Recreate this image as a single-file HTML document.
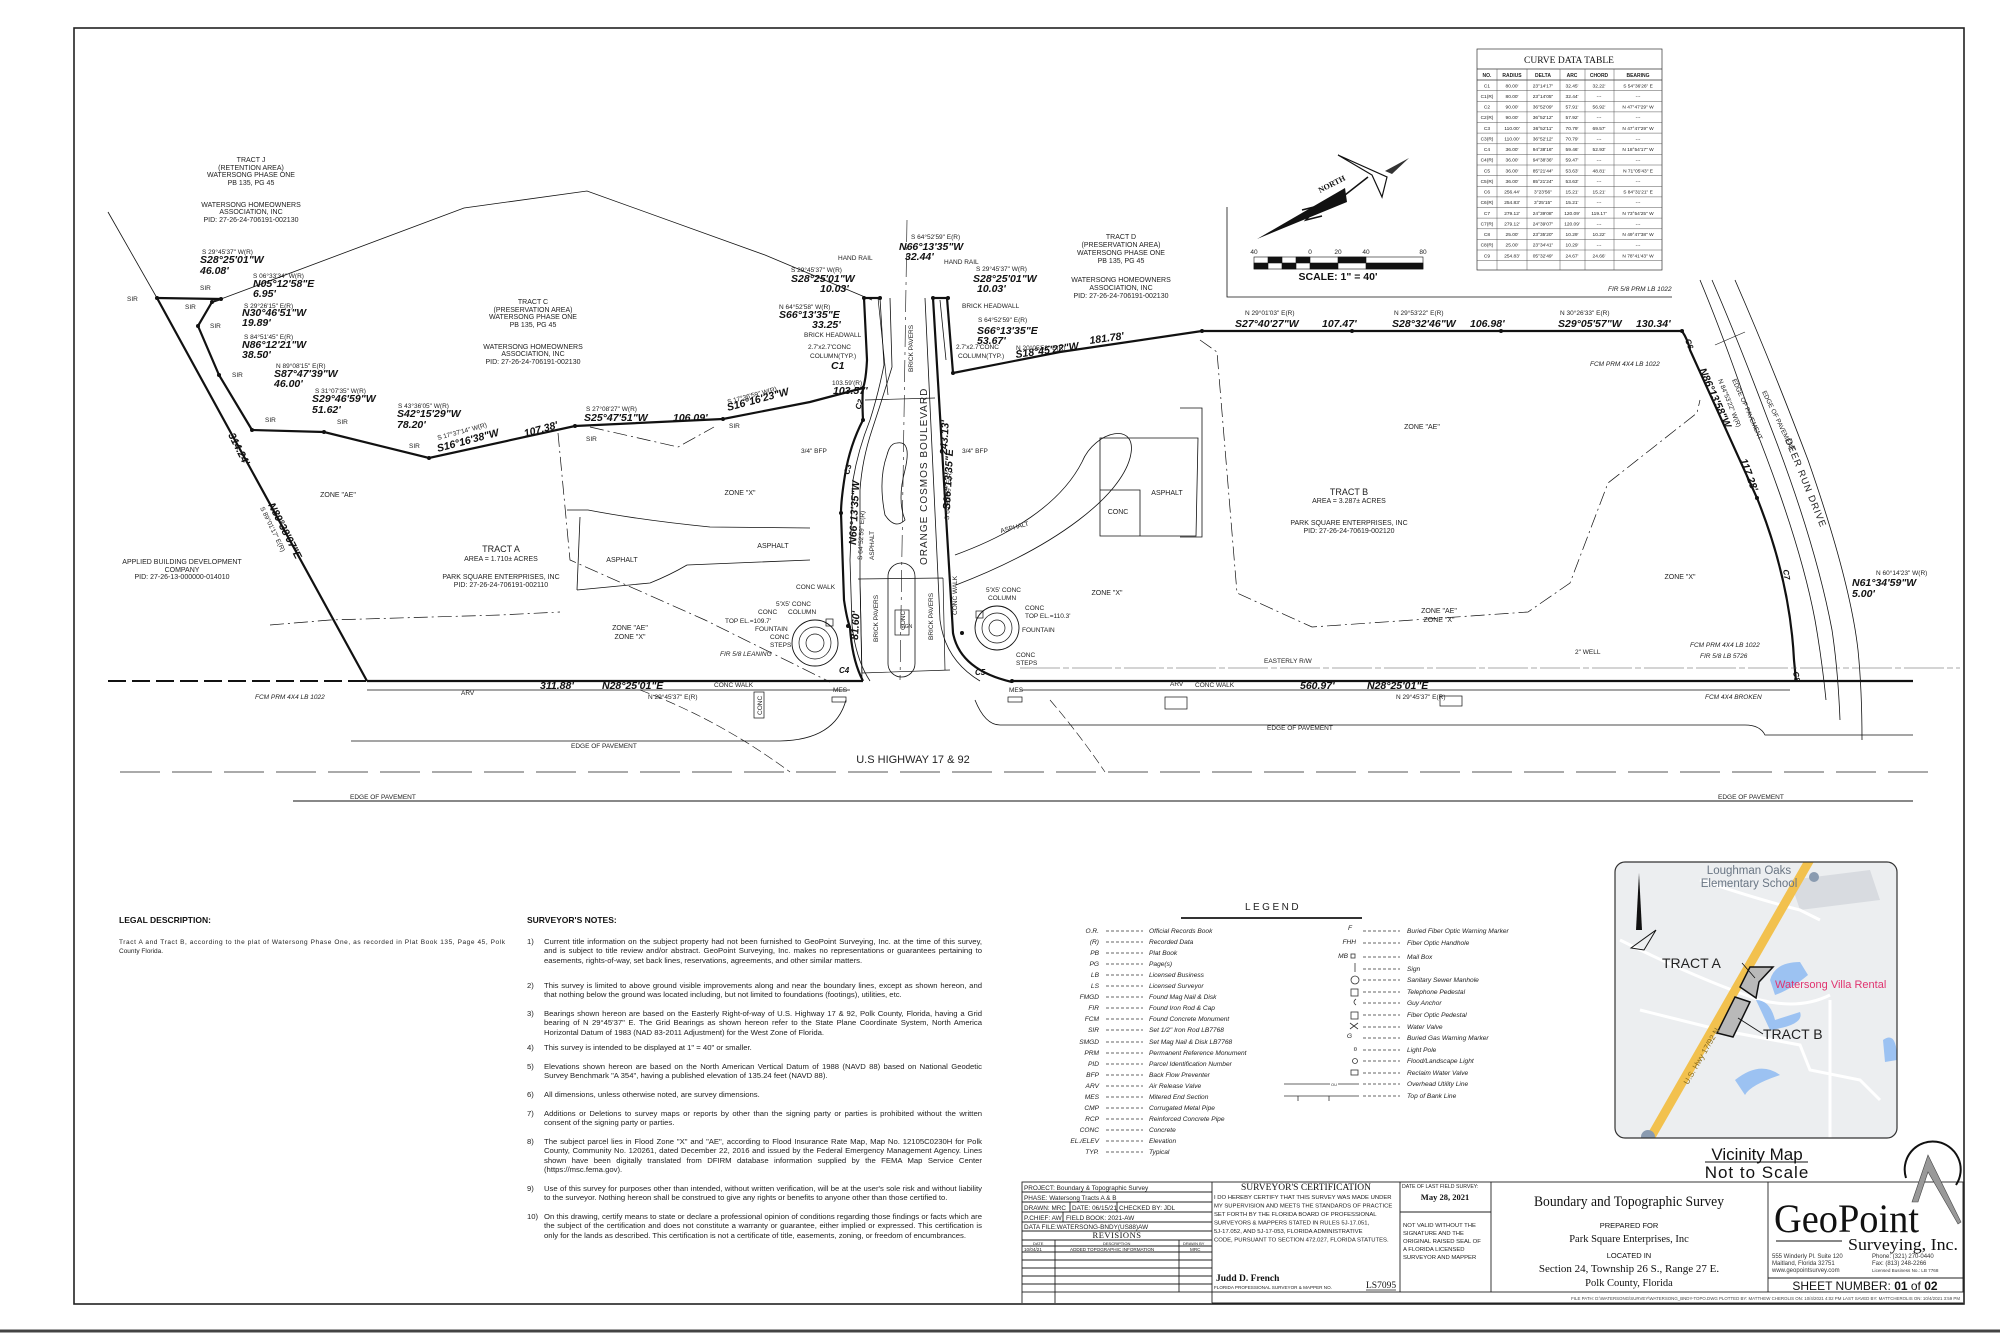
<!DOCTYPE html>
<html><head><meta charset="utf-8">
<style>
html,body{margin:0;padding:0;background:#fff;}
body{width:2000px;height:1333px;position:relative;overflow:hidden;font-family:"Liberation Sans",sans-serif;color:#111;}
svg{position:absolute;left:0;top:0;}
.t{font-family:"Liberation Sans",sans-serif;font-size:6.5px;fill:#222;}
.s{font-family:"Liberation Sans",sans-serif;font-size:7px;fill:#222;}
.b{font-family:"Liberation Sans",sans-serif;font-size:10.5px;font-weight:bold;font-style:italic;fill:#111;}
.lg{font-family:"Liberation Sans",sans-serif;font-size:6.6px;font-style:italic;fill:#222;}
.ser{font-family:"Liberation Serif",serif;fill:#111;}
.notes{position:absolute;left:527px;width:455px;font-size:7.7px;line-height:9.45px;color:#222;}
.notes .n{position:absolute;left:0;}
.notes .p{position:absolute;left:17px;width:438px;text-align:justify;}
</style></head><body>
<svg width="2000" height="1333" viewBox="0 0 2000 1333" xmlns="http://www.w3.org/2000/svg">
<rect x="74" y="28" width="1890" height="1276" fill="none" stroke="#222" stroke-width="1.6"/>
<line x1="0" y1="1331" x2="2000" y2="1331" stroke="#444" stroke-width="3"/>

<g fill="none" stroke="#111">
<path d="M108,212 L157,298" stroke-width="0.8"/>
<path d="M221,299 L464,208 L587,191 L765,255 L872,300" stroke-width="0.8"/>
<path d="M157,298 L221,299 M221,299 L212,302 L198,326 L219,375 L252,430 L324,432 L429,458 L575,426 L723,419 L810,402 L863,388" stroke-width="2.2"/>
<path d="M157,298 L367,681" stroke-width="2.2"/>
<path d="M864,298 L880,298" stroke-width="2.2"/>
<path d="M864,298 L867,360 Q866,380 863,388 Q862,400 863,420 Q850,445 845,475 Q841,500 841,513 L844,600 Q847,620 850,627 Q852,660 863,681" stroke-width="2.2"/>
<path d="M880,298 L884,365 Q878,395 870,420 Q858,450 853,480 L850,560 L852,625 Q856,660 870,681" stroke-width="0.8"/>
<path d="M890,298 L892,367 Q882,400 872,430 Q862,460 860,490 L860,580 L862,681" stroke-width="0.8"/>
<path d="M933,298 L948,298" stroke-width="2.2"/>
<path d="M933,298 L953,633 Q960,670 1012,682" stroke-width="2.2"/>
<path d="M947,298 L953,373" stroke-width="2.2"/>
<path d="M925,298 L940,620 Q945,660 980,681" stroke-width="0.8"/>
<path d="M940,300 L946,360" stroke-width="0.8"/>
<path d="M907,220 L900,680" stroke-width="0.6" stroke-dasharray="22,5,3,5"/>
<path d="M897,443 Q912,440 905,470 Q897,500 905,520 Q895,530 885,515 Q878,480 887,455 Q890,443 897,443 Z" stroke-width="0.8"/>
<rect x="888" y="563" width="27" height="114" rx="13.5" stroke-width="0.8"/>
<rect x="895" y="610" width="14" height="25" stroke-width="0.7"/>
<path d="M858,579 L943,578 M862,673 L950,670 M865,400 L935,398 M860,579 L862,673 M943,578 L945,670 M878,298 L888,395" stroke-width="0.7"/>
<path d="M953,373 L1060,352 L1202,331 L1682,331" stroke-width="2.2"/>
<path d="M1682,331 Q1688,340 1690,350 L1757,498 Q1790,580 1794,660 L1796,681" stroke-width="2.2"/>
<path d="M1700,280 Q1725,340 1752,420 Q1800,540 1815,620 Q1822,660 1826,700" stroke-width="0.8"/>
<path d="M1712,280 Q1738,340 1768,420 Q1815,540 1832,630 Q1838,670 1840,720" stroke-width="0.8"/>
<path d="M1735,280 Q1770,360 1808,460 Q1850,580 1858,650 Q1862,690 1862,740" stroke-width="0.8"/>
<path d="M1715,345 L1745,332" stroke-width="0.6"/>
<path d="M108,681 L367,681" stroke-width="2" stroke-dasharray="18,6"/>
<path d="M367,681 L863,681 M1012,681 L1913,681" stroke-width="2.2"/>
<path d="M367,690 L850,690 M1020,690 L1790,690" stroke-width="0.7"/>
<path d="M1020,668 L1960,668" stroke-width="0.5" stroke-dasharray="40,3,6,3" stroke="#555"/>
<path d="M351,741 L780,741 Q835,740 846,700" stroke-width="0.8"/>
<path d="M975,700 Q985,725 1000,725 L1745,725 Q1760,725 1765,735 L1913,735" stroke-width="0.8"/>
<path d="M120,772 L1930,772" stroke="#555" stroke-width="1.1" stroke-dasharray="40,12"/>
<path d="M293,801 L1913,801" stroke-width="1"/>
<path d="M640,690 Q720,720 790,772" stroke-width="0.6" stroke-dasharray="10,4"/>
<path d="M1050,700 Q1080,735 1105,772" stroke-width="0.6" stroke-dasharray="10,4"/>
<g stroke-width="0.7" stroke-dasharray="14,4,2,4">
<path d="M558,433 L570,560 L705,620 L830,682"/>
<path d="M590,427 L678,447 L714,427"/>
<path d="M270,625 L330,620 L500,615 L560,612"/>
<path d="M1200,340 L1217,352 L1237,593 L1312,627 L1528,612 L1570,583 L1608,483 L1697,413 L1700,400"/>
</g>
<path d="M567,510 L588,510 Q640,520 710,527 L810,528" stroke-width="0.8"/>
<path d="M577,590 L650,583 Q670,575 687,565 L810,560" stroke-width="0.8"/>
<path d="M580,517 L577,590" stroke-width="0.8"/>
<path d="M955,555 C1010,535 1060,505 1082,462 C1095,430 1140,420 1130,458 C1120,495 1060,545 956,585" stroke-width="0.8"/>
<path d="M1100,438 L1198,438 L1196,536 L1100,536 Z M1100,490 L1140,490 L1140,536" stroke-width="0.8"/>
<path d="M1180,408 L1202,408 L1202,537 L1180,537" stroke-width="0.8"/>
<circle cx="815" cy="643" r="23" stroke-width="0.9"/>
<circle cx="815" cy="643" r="16" stroke-width="0.7"/>
<circle cx="815" cy="643" r="9" stroke-width="0.7"/>
<circle cx="997" cy="628" r="22" stroke-width="0.9"/>
<circle cx="997" cy="628" r="15" stroke-width="0.7"/>
<circle cx="997" cy="628" r="8" stroke-width="0.7"/>
<rect x="826" y="619" width="7" height="7" stroke-width="0.7"/>
<rect x="976" y="611" width="7" height="7" stroke-width="0.7"/>
<rect x="754" y="692" width="10" height="26" stroke-width="0.7"/>
<rect x="1165" y="697" width="22" height="12" stroke-width="0.7"/>
<rect x="1440" y="696" width="22" height="10" stroke-width="0.7"/>
<rect x="832" y="697" width="14" height="5" stroke-width="0.7"/>
<rect x="1008" y="697" width="14" height="5" stroke-width="0.7"/>
<path d="M1227,207 L1227,297 L1672,297" stroke-width="0.8"/>
</g>
<g fill="#111">
<circle cx="157" cy="298" r="2"/><circle cx="221" cy="299" r="2"/><circle cx="212" cy="302" r="2"/><circle cx="198" cy="326" r="2"/><circle cx="219" cy="375" r="2"/><circle cx="252" cy="430" r="2"/><circle cx="324" cy="432" r="2"/><circle cx="429" cy="458" r="2"/><circle cx="575" cy="426" r="2"/><circle cx="723" cy="419" r="2"/><circle cx="863" cy="388" r="2"/><circle cx="864" cy="298" r="2"/><circle cx="880" cy="298" r="2"/><circle cx="933" cy="298" r="2"/><circle cx="948" cy="298" r="2"/><circle cx="953" cy="373" r="2"/><circle cx="1202" cy="331" r="2"/><circle cx="1352" cy="331" r="2"/><circle cx="1501" cy="331" r="2"/><circle cx="1682" cy="331" r="2"/><circle cx="1757" cy="498" r="2"/><circle cx="848" cy="626" r="2"/><circle cx="962" cy="633" r="2"/><circle cx="1012" cy="681" r="2"/><circle cx="841" cy="513" r="2"/><circle cx="863" cy="420" r="2"/>
</g>

<g>
<polygon points="1257,239 1345,188 1347,202" fill="#111"/>
<path d="M1345,195 L1368,177" stroke="#111" stroke-width="1.5"/>
<path d="M1338,155 L1387,177 L1382,197 L1372,175 Z" fill="#fff" stroke="#111" stroke-width="1.2"/>
<polygon points="1385,171 1409,158 1392,174" fill="#333"/>
<path d="M1302,210 L1318,206 L1306,220 L1322,216" fill="none" stroke="#111" stroke-width="1.6"/>
<text class="ser" x="1320" y="193" font-size="8" font-weight="bold" transform="rotate(-27 1320 193)">NORTH</text>
</g>
<g stroke="#111" stroke-width="0.6">
<rect x="1254" y="257" width="169" height="12" fill="#fff"/>
<rect x="1268" y="257" width="14" height="6" fill="#111"/><rect x="1296" y="257" width="14" height="6" fill="#111"/><rect x="1338" y="257" width="28" height="6" fill="#111"/>
<rect x="1254" y="263" width="14" height="6" fill="#111"/><rect x="1282" y="263" width="14" height="6" fill="#111"/><rect x="1310" y="263" width="28" height="6" fill="#111"/><rect x="1366" y="263" width="57" height="6" fill="#111"/>
</g>
<g class="t" font-size="6" text-anchor="middle"><text x="1254" y="254">40</text><text x="1310" y="254">0</text><text x="1338" y="254">20</text><text x="1366" y="254">40</text><text x="1423" y="254">80</text></g>
<text x="1338" y="280" text-anchor="middle" font-family="Liberation Sans" font-weight="bold" font-size="10.5" fill="#111">SCALE:  1" = 40'</text>

<g stroke="#333" stroke-width="0.7" fill="none">
<rect x="1477" y="49" width="185" height="221"/>
<line x1="1477" y1="69" x2="1662" y2="69"/>
<line x1="1477" y1="80" x2="1662" y2="80"/>
</g>
<g stroke="#555" stroke-width="0.5">
<line x1="1477" y1="90.6" x2="1662" y2="90.6"/><line x1="1477" y1="101.3" x2="1662" y2="101.3"/><line x1="1477" y1="111.9" x2="1662" y2="111.9"/><line x1="1477" y1="122.5" x2="1662" y2="122.5"/><line x1="1477" y1="133.1" x2="1662" y2="133.1"/><line x1="1477" y1="143.8" x2="1662" y2="143.8"/><line x1="1477" y1="154.4" x2="1662" y2="154.4"/><line x1="1477" y1="165" x2="1662" y2="165"/><line x1="1477" y1="175.6" x2="1662" y2="175.6"/><line x1="1477" y1="186.3" x2="1662" y2="186.3"/><line x1="1477" y1="196.9" x2="1662" y2="196.9"/><line x1="1477" y1="207.5" x2="1662" y2="207.5"/><line x1="1477" y1="218.1" x2="1662" y2="218.1"/><line x1="1477" y1="228.8" x2="1662" y2="228.8"/><line x1="1477" y1="239.4" x2="1662" y2="239.4"/><line x1="1477" y1="250" x2="1662" y2="250"/><line x1="1477" y1="260.6" x2="1662" y2="260.6"/>
<line x1="1497" y1="69" x2="1497" y2="270"/><line x1="1527" y1="69" x2="1527" y2="270"/><line x1="1560" y1="69" x2="1560" y2="270"/><line x1="1585" y1="69" x2="1585" y2="270"/><line x1="1614" y1="69" x2="1614" y2="270"/>
</g>
<text x="1569" y="63" text-anchor="middle" class="ser" font-size="9.5">CURVE DATA TABLE</text>
<g font-family="Liberation Sans" font-size="5" fill="#222" text-anchor="middle" font-weight="bold">
<text x="1487" y="77">NO.</text><text x="1512" y="77">RADIUS</text><text x="1543" y="77">DELTA</text><text x="1572" y="77">ARC</text><text x="1599" y="77">CHORD</text><text x="1638" y="77">BEARING</text>
</g>
<g font-family="Liberation Sans" font-size="4.8" fill="#222" text-anchor="middle">
<text x="1487" y="87.5">C1</text><text x="1512" y="87.5">80.00'</text><text x="1543" y="87.5">23°14'17"</text><text x="1572" y="87.5">32.45'</text><text x="1599" y="87.5">32.22'</text><text x="1638" y="87.5">S 54°36'26" E</text>
<text x="1487" y="98">C1(R)</text><text x="1512" y="98">80.00'</text><text x="1543" y="98">23°14'05"</text><text x="1572" y="98">32.44'</text><text x="1599" y="98">---</text><text x="1638" y="98">---</text>
<text x="1487" y="108.6">C2</text><text x="1512" y="108.6">90.00'</text><text x="1543" y="108.6">36°52'09"</text><text x="1572" y="108.6">57.91'</text><text x="1599" y="108.6">56.92'</text><text x="1638" y="108.6">N 47°47'29" W</text>
<text x="1487" y="119.2">C2(R)</text><text x="1512" y="119.2">90.00'</text><text x="1543" y="119.2">36°52'12"</text><text x="1572" y="119.2">57.92'</text><text x="1599" y="119.2">---</text><text x="1638" y="119.2">---</text>
<text x="1487" y="129.8">C3</text><text x="1512" y="129.8">110.00'</text><text x="1543" y="129.8">36°52'11"</text><text x="1572" y="129.8">70.79'</text><text x="1599" y="129.8">69.57'</text><text x="1638" y="129.8">N 47°47'29" W</text>
<text x="1487" y="140.4">C3(R)</text><text x="1512" y="140.4">110.00'</text><text x="1543" y="140.4">36°52'12"</text><text x="1572" y="140.4">70.79'</text><text x="1599" y="140.4">---</text><text x="1638" y="140.4">---</text>
<text x="1487" y="151.1">C4</text><text x="1512" y="151.1">36.00'</text><text x="1543" y="151.1">94°38'16"</text><text x="1572" y="151.1">59.46'</text><text x="1599" y="151.1">52.93'</text><text x="1638" y="151.1">N 18°54'17" W</text>
<text x="1487" y="161.7">C4(R)</text><text x="1512" y="161.7">36.00'</text><text x="1543" y="161.7">94°38'36"</text><text x="1572" y="161.7">59.47'</text><text x="1599" y="161.7">---</text><text x="1638" y="161.7">---</text>
<text x="1487" y="172.3">C5</text><text x="1512" y="172.3">36.00'</text><text x="1543" y="172.3">85°21'44"</text><text x="1572" y="172.3">53.63'</text><text x="1599" y="172.3">48.81'</text><text x="1638" y="172.3">N 71°05'43" E</text>
<text x="1487" y="182.9">C5(R)</text><text x="1512" y="182.9">36.00'</text><text x="1543" y="182.9">85°21'24"</text><text x="1572" y="182.9">53.63'</text><text x="1599" y="182.9">---</text><text x="1638" y="182.9">---</text>
<text x="1487" y="193.6">C6</text><text x="1512" y="193.6">256.44'</text><text x="1543" y="193.6">3°23'56"</text><text x="1572" y="193.6">15.21'</text><text x="1599" y="193.6">15.21'</text><text x="1638" y="193.6">S 84°31'21" E</text>
<text x="1487" y="204.2">C6(R)</text><text x="1512" y="204.2">254.83'</text><text x="1543" y="204.2">3°25'15"</text><text x="1572" y="204.2">15.21'</text><text x="1599" y="204.2">---</text><text x="1638" y="204.2">---</text>
<text x="1487" y="214.8">C7</text><text x="1512" y="214.8">279.12'</text><text x="1543" y="214.8">24°39'08"</text><text x="1572" y="214.8">120.09'</text><text x="1599" y="214.8">119.17'</text><text x="1638" y="214.8">N 73°54'25" W</text>
<text x="1487" y="225.4">C7(R)</text><text x="1512" y="225.4">279.12'</text><text x="1543" y="225.4">24°39'07"</text><text x="1572" y="225.4">120.09'</text><text x="1599" y="225.4">---</text><text x="1638" y="225.4">---</text>
<text x="1487" y="236.1">C8</text><text x="1512" y="236.1">25.00'</text><text x="1543" y="236.1">23°35'20"</text><text x="1572" y="236.1">10.29'</text><text x="1599" y="236.1">10.22'</text><text x="1638" y="236.1">N 49°47'38" W</text>
<text x="1487" y="246.7">C8(R)</text><text x="1512" y="246.7">25.00'</text><text x="1543" y="246.7">23°34'41"</text><text x="1572" y="246.7">10.29'</text><text x="1599" y="246.7">---</text><text x="1638" y="246.7">---</text>
<text x="1487" y="257.3">C9</text><text x="1512" y="257.3">254.83'</text><text x="1543" y="257.3">05°32'49"</text><text x="1572" y="257.3">24.67'</text><text x="1599" y="257.3">24.66'</text><text x="1638" y="257.3">N 78°41'43" W</text>
</g>

<g class="s" text-anchor="middle">
<text x="251" y="162">TRACT J</text><text x="251" y="170">(RETENTION AREA)</text><text x="251" y="177">WATERSONG PHASE ONE</text><text x="251" y="185">PB 135, PG 45</text>
<text x="251" y="207">WATERSONG HOMEOWNERS</text><text x="251" y="214">ASSOCIATION, INC</text><text x="251" y="222">PID:  27-26-24-706191-002130</text>
<text x="533" y="304">TRACT C</text><text x="533" y="312">(PRESERVATION AREA)</text><text x="533" y="319">WATERSONG PHASE ONE</text><text x="533" y="327">PB 135, PG 45</text>
<text x="533" y="349">WATERSONG HOMEOWNERS</text><text x="533" y="356">ASSOCIATION, INC</text><text x="533" y="364">PID:  27-26-24-706191-002130</text>
<text x="1121" y="239">TRACT D</text><text x="1121" y="247">(PRESERVATION AREA)</text><text x="1121" y="255">WATERSONG PHASE ONE</text><text x="1121" y="263">PB 135, PG 45</text>
<text x="1121" y="282">WATERSONG HOMEOWNERS</text><text x="1121" y="290">ASSOCIATION, INC</text><text x="1121" y="298">PID:  27-26-24-706191-002130</text>
<text x="501" y="552" font-size="9">TRACT A</text><text x="501" y="561">AREA = 1.710± ACRES</text>
<text x="501" y="579">PARK SQUARE ENTERPRISES, INC</text><text x="501" y="587">PID:  27-26-24-706191-002110</text>
<text x="1349" y="495" font-size="9">TRACT B</text><text x="1349" y="503">AREA = 3.287± ACRES</text>
<text x="1349" y="525">PARK SQUARE ENTERPRISES, INC</text><text x="1349" y="533">PID:  27-26-24-70619-002120</text>
<text x="182" y="564">APPLIED BUILDING DEVELOPMENT</text><text x="182" y="572">COMPANY</text><text x="182" y="579">PID:  27-26-13-000000-014010</text>
<text x="338" y="497">ZONE "AE"</text><text x="740" y="495">ZONE "X"</text><text x="1422" y="429">ZONE "AE"</text><text x="1680" y="579">ZONE "X"</text><text x="1107" y="595">ZONE "X"</text>
<text x="1439" y="613">ZONE "AE"</text><text x="1439" y="622">ZONE "X"</text><text x="630" y="630">ZONE "AE"</text><text x="630" y="639">ZONE "X"</text>
<text x="622" y="562">ASPHALT</text><text x="773" y="548">ASPHALT</text><text x="1167" y="495">ASPHALT</text><text x="1118" y="514">CONC</text>
<text x="913" y="763" font-size="11">U.S HIGHWAY 17 &amp; 92</text>
</g>
<text class="t" x="571" y="748">EDGE OF PAVEMENT</text>
<text class="t" x="1267" y="730">EDGE OF PAVEMENT</text>
<text class="t" x="350" y="799">EDGE OF PAVEMENT</text>
<text class="t" x="1718" y="799">EDGE OF PAVEMENT</text>

<g class="t">
<text x="202" y="254">S 29°45'37" W(R)</text><text x="253" y="278">S 06°33'34" W(R)</text><text x="244" y="308">S 29°26'15" E(R)</text><text x="244" y="339">S 84°51'45" E(R)</text><text x="276" y="368">N 89°08'15" E(R)</text><text x="315" y="393">S 31°07'35" W(R)</text><text x="398" y="408">S 43°36'05" W(R)</text><text x="586" y="411">S 27°08'27" W(R)</text>
<text x="438" y="440" transform="rotate(-15 438 440)">S 17°37'14" W(R)</text><text x="728" y="404" transform="rotate(-15 728 404)">S 17°36'59" W(R)</text>
<text x="127" y="301">SIR</text><text x="185" y="309">SIR</text><text x="200" y="290">SIR</text><text x="210" y="328">SIR</text><text x="232" y="377">SIR</text><text x="265" y="422">SIR</text><text x="337" y="424">SIR</text><text x="409" y="448">SIR</text><text x="586" y="441">SIR</text><text x="729" y="428">SIR</text>
<text x="1245" y="315">N 29°01'03" E(R)</text><text x="1394" y="315">N 29°53'22" E(R)</text><text x="1560" y="315">N 30°26'33" E(R)</text>
<text x="1608" y="291" font-style="italic">FIR 5/8 PRM LB 1022</text><text x="1590" y="366" font-style="italic">FCM PRM 4X4 LB 1022</text>
<text x="1876" y="575">N 60°14'23" W(R)</text>
<text x="1690" y="647" font-style="italic">FCM PRM 4X4 LB 1022</text><text x="1700" y="658" font-style="italic">FIR 5/8 LB 5726</text>
<text x="1575" y="654">2" WELL</text><text x="1264" y="663">EASTERLY R/W</text>
<text x="1396" y="699">N 29°45'37" E(R)</text><text x="1705" y="699" font-style="italic">FCM 4X4 BROKEN</text>
<text x="648" y="699">N 29°45'37" E(R)</text><text x="255" y="699" font-style="italic">FCM PRM 4X4 LB 1022</text>
<text x="714" y="687">CONC WALK</text><text x="1195" y="687">CONC WALK</text><text x="461" y="695">ARV</text><text x="1170" y="686">ARV</text>
<text x="911" y="239">S 64°52'59" E(R)</text><text x="838" y="260">HAND RAIL</text><text x="944" y="264">HAND RAIL</text>
<text x="976" y="271">S 29°45'37" W(R)</text><text x="791" y="272">S 29°45'37" W(R)</text>
<text x="779" y="309">N 64°52'58" W(R)</text><text x="804" y="337">BRICK HEADWALL</text><text x="962" y="308">BRICK HEADWALL</text>
<text x="978" y="322">S 64°52'59" E(R)</text><text x="1016" y="350">N 20°05'58" E(R)</text>
<text x="808" y="349">2.7'x2.7'CONC</text><text x="810" y="358">COLUMN(TYP.)</text><text x="956" y="349">2.7'x2.7'CONC</text><text x="958" y="358">COLUMN(TYP.)</text>
<text x="832" y="385">103.59'(R)</text>
<text x="801" y="453">3/4" BFP</text><text x="962" y="453">3/4" BFP</text>
<text x="796" y="589">CONC WALK</text><text x="986" y="592">5'X5' CONC</text><text x="988" y="600">COLUMN</text>
<text x="1025" y="610">CONC</text><text x="1025" y="618">TOP EL.=110.3'</text><text x="1022" y="632">FOUNTAIN</text><text x="1016" y="657">CONC</text><text x="1016" y="665">STEPS</text>
<text x="776" y="606">5'X5' CONC</text><text x="788" y="614">COLUMN</text><text x="758" y="614">CONC</text><text x="725" y="623">TOP EL.=109.7'</text><text x="755" y="631">FOUNTAIN</text><text x="770" y="639">CONC</text><text x="770" y="647">STEPS</text>
<text x="720" y="656" font-style="italic">FIR 5/8 LEANING</text>
<text x="833" y="692">MES</text><text x="1009" y="692">MES</text>
<text x="900" y="628" font-size="5">SIGN</text>
</g>
<g class="t" font-size="6">
<text transform="translate(913,372) rotate(-90)">BRICK PAVERS</text>
<text transform="translate(878,642) rotate(-90)">BRICK PAVERS</text>
<text transform="translate(933,640) rotate(-90)">BRICK PAVERS</text>
<text transform="translate(874,560) rotate(-90)">ASPHALT</text>
<text transform="translate(957,615) rotate(-90)">CONC WALK</text>
<text transform="translate(905,630) rotate(-90)">CONC</text>
<text transform="translate(762,715) rotate(-90)">CONC</text>
<text transform="translate(1001,533) rotate(-15)">ASPHALT</text>
<text transform="translate(260,508) rotate(64)">S 89°01'17" E(R)</text>
<text transform="translate(1718,380) rotate(68)">N 84°53'22" W(R)</text>
<text transform="translate(1732,380) rotate(66)">EDGE OF PAVEMENT</text>
<text transform="translate(1762,392) rotate(64)">EDGE OF PAVEMENT</text>
<text transform="translate(949,520) rotate(-87)">S 64°52'59" E(R)</text>
<text transform="translate(862,560) rotate(-87)">S 64°52'59" E(R)</text>
</g>
<text transform="translate(927,565) rotate(-90)" font-family="Liberation Sans" font-size="10" fill="#222" letter-spacing="1">ORANGE COSMOS BOULEVARD</text>
<text transform="translate(1785,440) rotate(68)" font-family="Liberation Sans" font-size="9.5" fill="#222" letter-spacing="1">DEER RUN DRIVE</text>
<g class="b">
<text x="200" y="263">S28°25'01"W</text><text x="200" y="274">46.08'</text>
<text x="253" y="287">N05°12'58"E</text><text x="253" y="297">6.95'</text>
<text x="242" y="316">N30°46'51"W</text><text x="242" y="326">19.89'</text>
<text x="242" y="348">N86°12'21"W</text><text x="242" y="358">38.50'</text>
<text x="274" y="377">S87°47'39"W</text><text x="274" y="387">46.00'</text>
<text x="312" y="402">S29°46'59"W</text><text x="312" y="413">51.62'</text>
<text x="397" y="417">S42°15'29"W</text><text x="397" y="428">78.20'</text>
<text x="584" y="421">S25°47'51"W</text><text x="673" y="421">106.09'</text>
<text transform="translate(438,452) rotate(-15)">S16°16'38"W</text>
<text transform="translate(525,437) rotate(-15)">107.38'</text>
<text transform="translate(728,411) rotate(-15)">S16°16'23"W</text>
<text transform="translate(228,435) rotate(63)">314.24'</text>
<text transform="translate(268,505) rotate(63)">N89°38'07"E</text>
<text x="899" y="250">N66°13'35"W</text><text x="905" y="260">32.44'</text>
<text x="973" y="282">S28°25'01"W</text><text x="977" y="292">10.03'</text>
<text x="791" y="282">S28°25'01"W</text><text x="820" y="292">10.03'</text>
<text x="779" y="318">S66°13'35"E</text><text x="812" y="328">33.25'</text>
<text x="977" y="334">S66°13'35"E</text><text x="977" y="344">53.67'</text>
<text x="1016" y="358" transform="rotate(-8 1016 358)">S18°45'22"W</text>
<text x="1090" y="344" transform="rotate(-8 1090 344)">181.78'</text>
<text x="833" y="394">103.57'</text><text x="831" y="369">C1</text>
<text x="1235" y="327">S27°40'27"W</text><text x="1322" y="327">107.47'</text>
<text x="1392" y="327">S28°32'46"W</text><text x="1470" y="327">106.98'</text>
<text x="1558" y="327">S29°05'57"W</text><text x="1636" y="327">130.34'</text>
<text x="1852" y="586">N61°34'59"W</text><text x="1852" y="597">5.00'</text>
<text x="540" y="689">311.88'</text><text x="602" y="689">N28°25'01"E</text>
<text x="1300" y="689">560.97'</text><text x="1367" y="689">N28°25'01"E</text>
<text transform="translate(947,455) rotate(-87)">243.13'</text>
<text transform="translate(950,510) rotate(-87)">S66°13'35"E</text>
<text transform="translate(856,545) rotate(-87)">N66°13'35"W</text>
<text transform="translate(858,640) rotate(-87)">81.60'</text>
<text transform="translate(1740,460) rotate(70)">117.28'</text>
<text transform="translate(1699,370) rotate(66)">N86°13'58"W</text>
<text x="1685" y="340" font-size="8" transform="rotate(70 1685 340)">C6</text>
<text x="1783" y="570" font-size="8" transform="rotate(80 1783 570)">C7</text>
<text x="1793" y="672" font-size="8" transform="rotate(80 1793 672)">C8</text>
<text x="860" y="410" font-size="8" transform="rotate(-70 860 410)">C2</text>
<text x="849" y="475" font-size="8" transform="rotate(-75 849 475)">C3</text>
<text x="839" y="673" font-size="8">C4</text><text x="975" y="675" font-size="8">C5</text>
</g>

<text x="119" y="923" font-family="Liberation Sans" font-weight="bold" font-size="8.5" fill="#111">LEGAL DESCRIPTION:</text>
<text x="119" y="944" class="t" font-size="7" textLength="386" lengthAdjust="spacing">Tract A and Tract B, according to the plat of Watersong Phase One, as recorded in Plat Book 135, Page 45, Polk</text>
<text x="119" y="953" class="t" font-size="7">County Florida.</text>
<text x="527" y="923" font-family="Liberation Sans" font-weight="bold" font-size="8.5" fill="#111">SURVEYOR'S NOTES:</text>

<text x="1273" y="910" text-anchor="middle" font-family="Liberation Sans" font-size="10" letter-spacing="2.5" fill="#222">LEGEND</text>
<line x1="1181" y1="918" x2="1362" y2="918" stroke="#333" stroke-width="2"/>
<g class="lg">
<g text-anchor="end">
<text x="1099" y="933">O.R.</text><text x="1099" y="944">(R)</text><text x="1099" y="955">PB</text><text x="1099" y="966">PG</text><text x="1099" y="977">LB</text><text x="1099" y="988">LS</text><text x="1099" y="999">FMGD</text><text x="1099" y="1010">FIR</text><text x="1099" y="1021">FCM</text><text x="1099" y="1032">SIR</text><text x="1099" y="1044">SMGD</text><text x="1099" y="1055">PRM</text><text x="1099" y="1066">PID</text><text x="1099" y="1077">BFP</text><text x="1099" y="1088">ARV</text><text x="1099" y="1099">MES</text><text x="1099" y="1110">CMP</text><text x="1099" y="1121">RCP</text><text x="1099" y="1132">CONC</text><text x="1099" y="1143">EL./ELEV</text><text x="1099" y="1154">TYP.</text>
</g>
<g>
<text x="1149" y="933">Official Records Book</text><text x="1149" y="944">Recorded Data</text><text x="1149" y="955">Plat Book</text><text x="1149" y="966">Page(s)</text><text x="1149" y="977">Licensed Business</text><text x="1149" y="988">Licensed Surveyor</text><text x="1149" y="999">Found Mag Nail &amp; Disk</text><text x="1149" y="1010">Found Iron Rod &amp; Cap</text><text x="1149" y="1021">Found Concrete Monument</text><text x="1149" y="1032">Set 1/2" Iron Rod LB7768</text><text x="1149" y="1044">Set Mag Nail &amp; Disk LB7768</text><text x="1149" y="1055">Permanent Reference Monument</text><text x="1149" y="1066">Parcel Identification Number</text><text x="1149" y="1077">Back Flow Preventer</text><text x="1149" y="1088">Air Release Valve</text><text x="1149" y="1099">Mitered End Section</text><text x="1149" y="1110">Corrugated Metal Pipe</text><text x="1149" y="1121">Reinforced Concrete Pipe</text><text x="1149" y="1132">Concrete</text><text x="1149" y="1143">Elevation</text><text x="1149" y="1154">Typical</text>
<text x="1407" y="933">Buried Fiber Optic Warning Marker</text><text x="1407" y="945">Fiber Optic Handhole</text><text x="1407" y="959">Mail Box</text><text x="1407" y="971">Sign</text><text x="1407" y="982">Sanitary Sewer Manhole</text><text x="1407" y="994">Telephone Pedestal</text><text x="1407" y="1005">Guy Anchor</text><text x="1407" y="1017">Fiber Optic Pedestal</text><text x="1407" y="1029">Water Valve</text><text x="1407" y="1040">Buried Gas Warning Marker</text><text x="1407" y="1052">Light Pole</text><text x="1407" y="1063">Flood/Landscape Light</text><text x="1407" y="1075">Reclaim Water Valve</text><text x="1407" y="1086">Overhead Utility Line</text><text x="1407" y="1098">Top of Bank Line</text>
<text x="1352" y="930" text-anchor="end">F</text><text x="1356" y="944" text-anchor="end">FHH</text><text x="1348" y="958" text-anchor="end">MB</text><text x="1357" y="1051" text-anchor="end">¤</text><text x="1352" y="1038" text-anchor="end">G</text>
</g>
</g>
<g stroke="#333" stroke-width="0.7" stroke-dasharray="3,2">
<line x1="1106" y1="931" x2="1143" y2="931"/><line x1="1106" y1="942" x2="1143" y2="942"/><line x1="1106" y1="953" x2="1143" y2="953"/><line x1="1106" y1="964" x2="1143" y2="964"/><line x1="1106" y1="975" x2="1143" y2="975"/><line x1="1106" y1="986" x2="1143" y2="986"/><line x1="1106" y1="997" x2="1143" y2="997"/><line x1="1106" y1="1008" x2="1143" y2="1008"/><line x1="1106" y1="1019" x2="1143" y2="1019"/><line x1="1106" y1="1030" x2="1143" y2="1030"/><line x1="1106" y1="1042" x2="1143" y2="1042"/><line x1="1106" y1="1053" x2="1143" y2="1053"/><line x1="1106" y1="1064" x2="1143" y2="1064"/><line x1="1106" y1="1075" x2="1143" y2="1075"/><line x1="1106" y1="1086" x2="1143" y2="1086"/><line x1="1106" y1="1097" x2="1143" y2="1097"/><line x1="1106" y1="1108" x2="1143" y2="1108"/><line x1="1106" y1="1119" x2="1143" y2="1119"/><line x1="1106" y1="1130" x2="1143" y2="1130"/><line x1="1106" y1="1141" x2="1143" y2="1141"/><line x1="1106" y1="1152" x2="1143" y2="1152"/>
<line x1="1363" y1="931" x2="1400" y2="931"/><line x1="1363" y1="943" x2="1400" y2="943"/><line x1="1363" y1="957" x2="1400" y2="957"/><line x1="1363" y1="969" x2="1400" y2="969"/><line x1="1363" y1="980" x2="1400" y2="980"/><line x1="1363" y1="992" x2="1400" y2="992"/><line x1="1363" y1="1003" x2="1400" y2="1003"/><line x1="1363" y1="1015" x2="1400" y2="1015"/><line x1="1363" y1="1027" x2="1400" y2="1027"/><line x1="1363" y1="1038" x2="1400" y2="1038"/><line x1="1363" y1="1050" x2="1400" y2="1050"/><line x1="1363" y1="1061" x2="1400" y2="1061"/><line x1="1363" y1="1073" x2="1400" y2="1073"/><line x1="1363" y1="1084" x2="1400" y2="1084"/><line x1="1363" y1="1096" x2="1400" y2="1096"/>
</g>
<g fill="none" stroke="#333" stroke-width="0.8">
<rect x="1351" y="954" width="4" height="4"/><line x1="1355" y1="963" x2="1355" y2="972"/><circle cx="1355" cy="980" r="4"/><rect x="1351" y="989" width="7" height="7"/><rect x="1351" y="1012" width="7" height="7"/><path d="M1356,999 Q1352,1002 1356,1005"/><path d="M1350,1023 L1358,1029 M1350,1029 L1358,1023"/><circle cx="1355" cy="1061" r="2.5"/><rect x="1351" y="1070" width="7" height="5"/>
<path d="M1284,1084 L1330,1084 M1338,1084 L1359,1084"/><path d="M1284,1096 L1359,1096 M1298,1096 L1298,1101 M1329,1096 L1329,1101"/>
</g>
<text x="1334" y="1086" font-size="4" font-family="Liberation Sans" fill="#333" text-anchor="middle">OU</text>

<defs><clipPath id="vm"><rect x="1615" y="862" width="282" height="276" rx="10"/></clipPath></defs>
<g clip-path="url(#vm)">
<rect x="1615" y="862" width="282" height="276" fill="#eceef0"/>
<path d="M1790,880 L1870,870 L1880,900 L1800,910 Z" fill="#d8dbe0"/>
<path d="M1620,940 Q1700,980 1760,1000 Q1800,1010 1830,995" stroke="#fff" stroke-width="3" fill="none"/>
<path d="M1640,1010 L1720,1030 L1800,1045 L1810,1070 L1860,1080 L1880,1100" stroke="#fff" stroke-width="3" fill="none"/>
<path d="M1830,1000 L1830,1138 M1700,880 Q1760,900 1800,910 L1820,920" stroke="#fff" stroke-width="3" fill="none"/>
<path d="M1770,980 Q1775,962 1800,962 L1808,975 Q1790,990 1775,995 Z M1756,1000 Q1770,1000 1775,1020 L1800,1012 Q1805,1025 1770,1030 Z M1735,1080 Q1760,1060 1780,1075 Q1750,1085 1745,1095 Z M1883,1040 Q1897,1030 1897,1060 L1885,1062 Z" fill="#9cc2f2"/>
<line x1="1812" y1="856" x2="1648" y2="1142" stroke="#f2c14e" stroke-width="9"/>
<circle cx="1648" cy="1137" r="7" fill="#8a9bb0"/>
<polygon points="1750,967 1773,967 1759,982 1756,998 1740,987" fill="#b9b9b9" stroke="#111" stroke-width="1.5"/>
<polygon points="1735,997 1750,1002 1733,1037 1717,1033" fill="#b9b9b9" stroke="#111" stroke-width="1.5"/>
<path d="M1742,963 L1755,978 M1738,1018 L1763,1034" stroke="#111" stroke-width="0.8"/>
<text x="1749" y="874" text-anchor="middle" font-family="Liberation Sans" font-size="11.5" fill="#6a7684">Loughman Oaks</text>
<text x="1749" y="887" text-anchor="middle" font-family="Liberation Sans" font-size="11.5" fill="#6a7684">Elementary School</text>
<circle cx="1814" cy="877" r="5" fill="#8a9bb0"/>
<text x="1662" y="968" font-family="Liberation Sans" font-size="14" fill="#222">TRACT  A</text>
<text x="1775" y="988" font-family="Liberation Sans" font-size="11" fill="#e0336f">Watersong Villa Rental</text>
<text x="1763" y="1039" font-family="Liberation Sans" font-size="14" fill="#222">TRACT  B</text>
<text transform="translate(1688,1085) rotate(-60)" font-family="Liberation Sans" font-size="8" fill="#8a6d1e">U.S. Hwy 17/92 N</text>
<path d="M1639,873 L1642,930 L1636,930 Z" fill="#111"/>
<path d="M1631,948 L1656,930 L1644,950 Z" fill="none" stroke="#111" stroke-width="1"/>
</g>
<rect x="1615" y="862" width="282" height="276" rx="10" fill="none" stroke="#333" stroke-width="1.2"/>
<text x="1757" y="1160" text-anchor="middle" font-family="Liberation Sans" font-size="17" fill="#111">Vicinity Map</text>
<line x1="1705" y1="1162" x2="1808" y2="1162" stroke="#111" stroke-width="1"/>
<text x="1757" y="1178" text-anchor="middle" font-family="Liberation Sans" font-size="17" fill="#111" letter-spacing="1">Not to Scale</text>

<g fill="none" stroke="#222" stroke-width="0.9">
<rect x="1022" y="1182" width="941" height="110"/>
<line x1="1212" y1="1182" x2="1212" y2="1303"/><line x1="1400" y1="1182" x2="1400" y2="1292"/><line x1="1491" y1="1182" x2="1491" y2="1292"/><line x1="1768" y1="1182" x2="1768" y2="1292"/>
<line x1="1212" y1="1303" x2="1963" y2="1303"/><line x1="1022" y1="1292" x2="1022" y2="1303"/>
<line x1="1022" y1="1192" x2="1212" y2="1192"/><line x1="1022" y1="1202" x2="1212" y2="1202"/><line x1="1022" y1="1212" x2="1212" y2="1212"/><line x1="1022" y1="1222" x2="1212" y2="1222"/><line x1="1022" y1="1231" x2="1212" y2="1231"/><line x1="1022" y1="1240" x2="1212" y2="1240"/><line x1="1022" y1="1246" x2="1212" y2="1246"/><line x1="1022" y1="1252" x2="1212" y2="1252"/><line x1="1022" y1="1260" x2="1212" y2="1260"/><line x1="1022" y1="1268" x2="1212" y2="1268"/><line x1="1022" y1="1276" x2="1212" y2="1276"/><line x1="1022" y1="1284" x2="1212" y2="1284"/>
<line x1="1055" y1="1240" x2="1055" y2="1303"/><line x1="1179" y1="1240" x2="1179" y2="1292"/>
<line x1="1070" y1="1202" x2="1070" y2="1212"/><line x1="1117" y1="1202" x2="1117" y2="1212"/><line x1="1063" y1="1212" x2="1063" y2="1222"/>
<line x1="1400" y1="1212" x2="1491" y2="1212"/>
<line x1="1768" y1="1278" x2="1963" y2="1278"/>
</g>
<g font-family="Liberation Sans" font-size="6.4" fill="#222">
<text x="1024" y="1190">PROJECT:  Boundary &amp; Topographic Survey</text>
<text x="1024" y="1200">PHASE:  Watersong Tracts A &amp; B</text>
<text x="1024" y="1210">DRAWN:  MRC</text><text x="1072" y="1210">DATE:  06/15/21</text><text x="1119" y="1210">CHECKED BY:  JDL</text>
<text x="1024" y="1220">P.CHIEF:  AW</text><text x="1066" y="1220">FIELD BOOK: 2021-AW</text>
<text x="1024" y="1229">DATA FILE:WATERSONG-BNDY(US88)AW</text>
<text x="1024" y="1251" font-size="4.6">10/04/21</text><text x="1070" y="1251" font-size="4.6">ADDED TOPOGRAPHIC INFORMATION</text><text x="1190" y="1251" font-size="4.6">MRC</text>
<text x="1033" y="1245" font-size="4">DATE</text><text x="1103" y="1245" font-size="4">DESCRIPTION</text><text x="1183" y="1245" font-size="4">DRAWN BY</text>
</g>
<text x="1117" y="1238" text-anchor="middle" class="ser" font-size="8.5" letter-spacing="0.5">REVISIONS</text>
<text x="1306" y="1190" text-anchor="middle" class="ser" font-size="9.5">SURVEYOR'S CERTIFICATION</text>
<g font-family="Liberation Sans" font-size="5.9" fill="#222">
<text x="1214" y="1199">I DO HEREBY CERTIFY THAT THIS SURVEY WAS MADE UNDER</text>
<text x="1214" y="1207.5">MY SUPERVISION AND MEETS THE STANDARDS OF PRACTICE</text>
<text x="1214" y="1216">SET FORTH BY THE FLORIDA BOARD OF PROFESSIONAL</text>
<text x="1214" y="1224.5">SURVEYORS &amp; MAPPERS STATED IN RULES 5J-17.051,</text>
<text x="1214" y="1233">5J-17.052, AND 5J-17-053, FLORIDA ADMINISTRATIVE</text>
<text x="1214" y="1241.5">CODE, PURSUANT TO SECTION 472.027, FLORIDA STATUTES.</text>
<text x="1402" y="1188" font-size="5.2">DATE OF LAST FIELD SURVEY:</text>
<text x="1403" y="1227">NOT VALID WITHOUT THE</text><text x="1403" y="1235">SIGNATURE AND THE</text><text x="1403" y="1243">ORIGINAL RAISED SEAL OF</text><text x="1403" y="1251">A FLORIDA LICENSED</text><text x="1403" y="1259">SURVEYOR AND MAPPER</text>
<text x="1214" y="1289" font-size="4.6">FLORIDA PROFESSIONAL SURVEYOR &amp; MAPPER NO.</text>
</g>
<text x="1445" y="1200" text-anchor="middle" class="ser" font-size="8.5" font-weight="bold">May 28, 2021</text>
<text x="1216" y="1281" class="ser" font-size="9.5" font-weight="bold">Judd D. French</text>
<text x="1366" y="1288" class="ser" font-size="9.5">LS7095</text>
<line x1="1366" y1="1290" x2="1396" y2="1290" stroke="#222" stroke-width="0.8"/>
<g class="ser" text-anchor="middle" fill="#222">
<text x="1629" y="1206" font-size="15" textLength="190" lengthAdjust="spacingAndGlyphs">Boundary and Topographic Survey</text>
<text x="1629" y="1228" font-size="7.5" font-family="Liberation Sans">PREPARED FOR</text>
<text x="1629" y="1242" font-size="10.5">Park Square Enterprises, Inc</text>
<text x="1629" y="1258" font-size="7.5" font-family="Liberation Sans">LOCATED IN</text>
<text x="1629" y="1272" font-size="11">Section 24, Township 26 S., Range 27 E.</text>
<text x="1629" y="1286" font-size="10.5">Polk County, Florida</text>
</g>
<path d="M1906,1178 A28,28 0 1 1 1956,1185" fill="none" stroke="#111" stroke-width="2"/>
<polygon points="1928,1155 1912,1202 1918,1202 1928,1172 1958,1224 1961,1222" fill="#999" stroke="#444" stroke-width="0.6"/>
<text x="1774" y="1232" class="ser" font-size="40" textLength="145" lengthAdjust="spacingAndGlyphs" fill="#111">GeoPoint</text>
<line x1="1776" y1="1241" x2="1842" y2="1241" stroke="#111" stroke-width="1"/>
<text x="1958" y="1250" text-anchor="end" class="ser" font-size="17" textLength="110" lengthAdjust="spacingAndGlyphs" fill="#111">Surveying, Inc.</text>
<g font-family="Liberation Sans" font-size="6" fill="#333">
<text x="1772" y="1258">555 Winderly Pl. Suite 120</text><text x="1772" y="1265">Maitland, Florida 32751</text><text x="1772" y="1272">www.geopointsurvey.com</text>
<text x="1872" y="1258">Phone: (321) 270-0440</text><text x="1872" y="1265">Fax:    (813) 248-2266</text><text x="1872" y="1272" font-size="4.6">Licensed Business No.: LB 7768</text>
</g>
<text x="1865" y="1290" text-anchor="middle" font-family="Liberation Sans" font-size="12" fill="#111">SHEET NUMBER: <tspan font-weight="bold">01</tspan> of <tspan font-weight="bold">02</tspan></text>
<text x="1960" y="1300" text-anchor="end" font-family="Liberation Sans" font-size="4.4" fill="#444">FILE PATH: D:\WATERSONG\SURVEY\WATERSONG_BNDY-TOPO.DWG    PLOTTED BY: MATTHEW CHEROLIS  ON: 10/4/2021 4:02 PM    LAST SAVED BY: MATTCHEROLIS  ON: 10/4/2021 3:59 PM</text>
</svg>

<div class="notes" style="top:937px">
<span class="n" style="top:0">1)</span><div class="p" style="top:0">Current title information on the subject property had not been furnished to GeoPoint Surveying, Inc. at the time of this survey, and is subject to title review and/or abstract. GeoPoint Surveying, Inc. makes no representations or guarantees pertaining to easements, rights-of-way, set back lines, reservations, agreements, and other similar matters.</div>
<span class="n" style="top:44px">2)</span><div class="p" style="top:44px">This survey is limited to above ground visible improvements along and near the boundary lines, except as shown hereon, and that nothing below the ground was located including, but not limited to foundations (footings), utilities, etc.</div>
<span class="n" style="top:72px">3)</span><div class="p" style="top:72px">Bearings shown hereon are based on the Easterly Right-of-way of U.S. Highway 17 &amp; 92, Polk County, Florida, having a Grid bearing of N 29°45'37" E. The Grid Bearings as shown hereon refer to the State Plane Coordinate System, North America Horizontal Datum of 1983 (NAD 83-2011 Adjustment) for the West Zone of Florida.</div>
<span class="n" style="top:106px">4)</span><div class="p" style="top:106px">This survey is intended to be displayed at 1" = 40" or smaller.</div>
<span class="n" style="top:125px">5)</span><div class="p" style="top:125px">Elevations shown hereon are based on the North American Vertical Datum of 1988 (NAVD 88) based on National Geodetic Survey Benchmark "A 354", having a published elevation of 135.24 feet (NAVD 88).</div>
<span class="n" style="top:153px">6)</span><div class="p" style="top:153px">All dimensions, unless otherwise noted, are survey dimensions.</div>
<span class="n" style="top:172px">7)</span><div class="p" style="top:172px">Additions or Deletions to survey maps or reports by other than the signing party or parties is prohibited without the written consent of the signing party or parties.</div>
<span class="n" style="top:200px">8)</span><div class="p" style="top:200px">The subject parcel lies in Flood Zone "X" and "AE", according to Flood Insurance Rate Map, Map No. 12105C0230H for Polk County, Community No. 120261, dated December 22, 2016 and issued by the Federal Emergency Management Agency. Lines shown have been digitally translated from DFIRM database information supplied by the FEMA Map Service Center (https://msc.fema.gov).</div>
<span class="n" style="top:247px">9)</span><div class="p" style="top:247px">Use of this survey for purposes other than intended, without written verification, will be at the user's sole risk and without liability to the surveyor. Nothing hereon shall be construed to give any rights or benefits to anyone other than those certified to.</div>
<span class="n" style="top:275px">10)</span><div class="p" style="top:275px">On this drawing, certify means to state or declare a professional opinion of conditions regarding those findings or facts which are the subject of the certification and does not constitute a warranty or guarantee, either implied or expressed. This certification is only for the lands as described. This certification is not a certificate of title, easements, zoning, or freedom of encumbrances.</div>
</div>
</body></html>
